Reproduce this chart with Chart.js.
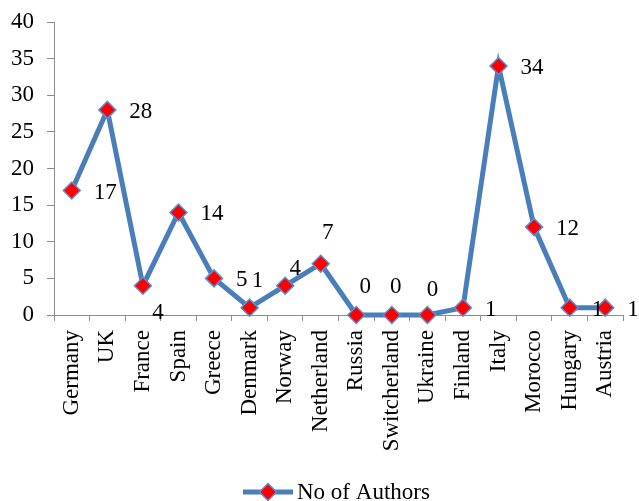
<!DOCTYPE html>
<html>
<head>
<meta charset="utf-8">
<script src="https://cdn.jsdelivr.net/npm/chart.js@4/dist/chart.umd.min.js"></script>
<style>
  html, body { margin: 0; padding: 0; background: #ffffff; }
  #wrap { width: 639px; height: 501px; }
</style>
</head>
<body>
<div id="wrap"><canvas id="chart" width="639" height="501"></canvas></div>
<script>
// Countries along the category axis
const countries = [
  'Germany', 'UK', 'France', 'Spain', 'Greece', 'Denmark', 'Norway', 'Netherland',
  'Russia', 'Switcherland', 'Ukraine', 'Finland', 'Italy', 'Morocco', 'Hungary', 'Austria'
];

// Number of authors per country
const authorCounts = [17, 28, 4, 14, 5, 1, 4, 7, 0, 0, 0, 1, 34, 12, 1, 1];

// Value axis range
const yMin = 0;
const yMax = 40;
const yStep = 5;

const seriesName = 'No of Authors';

const LINE_BLUE = '#4A7EBB';
const MARKER_EDGE = '#5B8FD3';
const MARKER_RED = '#FF0000';
const AXIS_GREY = '#8C8C8C';
const SERIF = '"Liberation Serif", "Times New Roman", serif';

// Value labels sit to the right of their marker unless a nudge is given here
const valueLabelNudges = {
  France: { dx: 15, dy: 27 },
  Denmark: { dx: 8, dy: -27 },
  Norway: { dx: 10, dy: -17 },
  Netherland: { dx: 7, dy: -31 },
  Russia: { dx: 9, dy: -28 },
  Switcherland: { dx: 4, dy: -28 },
  Ukraine: { dx: 5, dy: -25 }
};

const valueLabels = {
  id: 'valueLabels',
  afterDatasetsDraw(chart) {
    const ctx = chart.ctx;
    const meta = chart.getDatasetMeta(0);
    const ds = chart.data.datasets[0];
    ctx.save();
    ctx.font = '23px ' + SERIF;
    ctx.fillStyle = '#000000';
    ctx.textBaseline = 'middle';
    meta.data.forEach((pt, i) => {
      const name = chart.data.labels[i];
      const text = String(ds.data[i]);
      const nudge = valueLabelNudges[name];
      if (nudge) {
        ctx.textAlign = 'center';
        ctx.fillText(text, pt.x + nudge.dx, pt.y + nudge.dy);
      } else {
        ctx.textAlign = 'left';
        ctx.fillText(text, pt.x + 22, pt.y + 2);
      }
    });
    ctx.restore();
  }
};

// Legend entry: a short stroke of the series line with its marker, then the name
const lineLegend = {
  id: 'lineLegend',
  afterDraw(chart) {
    const ctx = chart.ctx;
    const ds = chart.data.datasets[0];
    const cy = 492;
    const x0 = 243, x1 = 293;
    const mx = (x0 + x1) / 2;
    const r = ds.pointRadius;
    ctx.save();
    ctx.strokeStyle = ds.borderColor;
    ctx.lineWidth = ds.borderWidth;
    ctx.beginPath();
    ctx.moveTo(x0, cy);
    ctx.lineTo(x1, cy);
    ctx.stroke();
    ctx.fillStyle = ds.pointBackgroundColor;
    ctx.strokeStyle = ds.pointBorderColor;
    ctx.lineWidth = ds.pointBorderWidth;
    ctx.beginPath();
    ctx.moveTo(mx, cy - r);
    ctx.lineTo(mx + r, cy);
    ctx.lineTo(mx, cy + r);
    ctx.lineTo(mx - r, cy);
    ctx.closePath();
    ctx.fill();
    ctx.stroke();
    ctx.font = '23px ' + SERIF;
    ctx.fillStyle = '#000000';
    ctx.textAlign = 'left';
    ctx.textBaseline = 'alphabetic';
    ctx.fillText(ds.label, 297, 499);
    ctx.restore();
  }
};

new Chart(document.getElementById('chart'), {
  type: 'line',
  data: {
    labels: countries,
    datasets: [{
      label: seriesName,
      data: authorCounts,
      borderColor: LINE_BLUE,
      borderWidth: 5,
      tension: 0,
      fill: false,
      pointStyle: 'rectRot',
      pointRadius: 8.5,
      pointHoverRadius: 8.5,
      pointBackgroundColor: MARKER_RED,
      pointBorderColor: MARKER_EDGE,
      pointBorderWidth: 1.5,
      clip: false
    }]
  },
  options: {
    responsive: false,
    animation: false,
    events: [],
    layout: { padding: { top: 22, right: 16, left: 0, bottom: 0 } },
    plugins: {
      legend: { display: false },
      tooltip: { enabled: false },
      title: { display: false }
    },
    scales: {
      x: {
        type: 'category',
        offset: true,
        grid: {
          offset: true,
          drawOnChartArea: false,
          drawTicks: true,
          tickLength: 6,
          color: AXIS_GREY,
          lineWidth: 1
        },
        border: { color: AXIS_GREY, width: 1 },
        ticks: {
          minRotation: 90,
          maxRotation: 90,
          autoSkip: false,
          padding: 9,
          color: '#000000',
          font: { family: SERIF, size: 23 }
        },
        afterFit(scale) {
          scale.height = 186;
          scale.paddingLeft = 0;
          scale.paddingRight = 0;
        }
      },
      y: {
        min: yMin,
        max: yMax,
        ticks: {
          stepSize: yStep,
          padding: 13,
          color: '#000000',
          font: { family: SERIF, size: 23 }
        },
        grid: {
          drawOnChartArea: false,
          drawTicks: true,
          tickLength: 7,
          color: AXIS_GREY,
          lineWidth: 1
        },
        border: { color: AXIS_GREY, width: 1 },
        afterFit(scale) {
          scale.width = 54;
          scale.paddingTop = 0;
          scale.paddingBottom = 0;
        }
      }
    }
  },
  plugins: [valueLabels, lineLegend]
});
</script>
</body>
</html>
